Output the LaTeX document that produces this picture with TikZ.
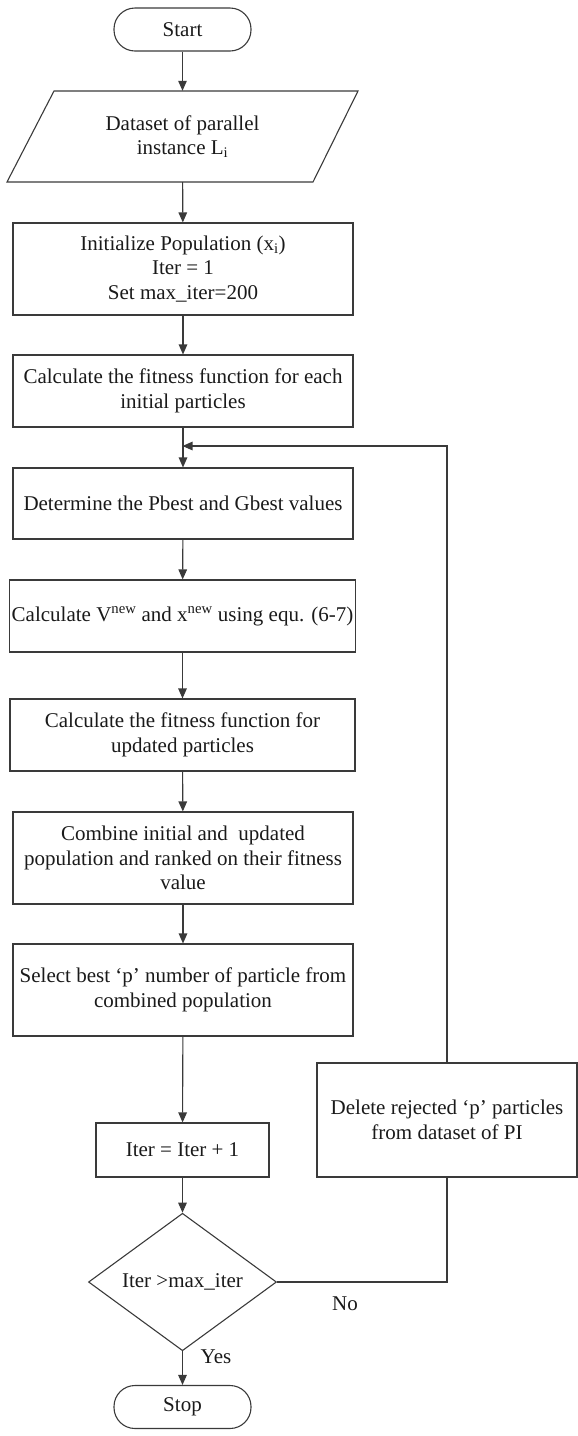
\documentclass[tikz,border=0pt]{standalone}
\usepackage{fontspec}
\setmainfont{Liberation Serif}
\usetikzlibrary{shapes.geometric,arrows.meta}
\definecolor{ln}{HTML}{3A3A3A}
\definecolor{tx}{HTML}{1A1A1A}
\tikzset{
  box/.style={draw=ln, line width=1.1pt, rectangle, align=center, inner sep=2pt, text=tx},
  term/.style={draw=ln, line width=1.1pt, rectangle, rounded corners=21pt, align=center, text=tx, minimum width=137pt, minimum height=43pt},
  plain/.style={rectangle, align=center, inner sep=0pt, text=tx},
  arr/.style={draw=ln, line width=1.1pt, -{Triangle[length=10pt,width=8.5pt]}},
  con/.style={draw=ln, line width=1.1pt},
  lbl/.style={text=tx, inner sep=0pt}
}
\begin{document}
\begin{tikzpicture}[x=1pt,y=-1pt,font=\fontsize{21}{24.5}\selectfont]
\useasboundingbox (0,0) rectangle (578,1436);
\node[term] (start) at (182.5,29.5) {Start};
\node[plain, minimum width=300pt, minimum height=91pt] (data) at (182.5,136.5) {Dataset of parallel\\instance L\textsubscript{i}};
\draw[con] (54,91) -- (358,91) -- (313,182) -- (7,182) -- cycle;
\node[box, minimum width=340pt, minimum height=92pt] (init) at (183,269) {Initialize Population (x\textsubscript{i})\\Iter = 1\\Set max\_iter=200};
\node[box, minimum width=340pt, minimum height=72pt] (fit1) at (183,391) {Calculate the fitness function for each\\initial particles};
\node[box, minimum width=340pt, minimum height=71pt] (det) at (183,503.5) {Determine the Pbest and Gbest values};
\node[box, minimum width=345pt, minimum height=72pt] (calcv) at (182.5,616) {Calculate V\textsuperscript{new} and x\textsuperscript{new} using equ. (6-7)};
\node[box, minimum width=345pt, minimum height=72pt] (fit2) at (182.5,735) {Calculate the fitness function for\\updated particles};
\node[box, minimum width=340pt, minimum height=92pt] (comb) at (183,858) {Combine initial and \ updated\\population and ranked on their fitness\\value};
\node[box, minimum width=340pt, minimum height=92pt] (sel) at (183,990) {Select best ‘p’ number of particle from\\combined population};
\node[box, minimum width=173pt, minimum height=54pt] (iter) at (182.5,1150) {Iter = Iter + 1};
\node[draw=ln, line width=1.1pt, diamond, inner sep=0pt, minimum width=188pt, minimum height=127pt, text=tx] (dec) at (182.5,1282) {Iter >max\_iter};
\node[box, minimum width=260pt, minimum height=114pt] (del) at (447,1120) {Delete rejected ‘p’ particles\\from dataset of PI};
\node[term] (stop) at (182.5,1407) {Stop};
\coordinate (merge) at (182.5,446);
\draw[arr] (start) -- (data);
\draw[arr] (data) -- (init);
\draw[arr] (init) -- (fit1);
\draw[arr] (fit1) -- (det);
\draw[arr] (det) -- (calcv);
\draw[arr] (calcv) -- (fit2);
\draw[arr] (fit2) -- (comb);
\draw[arr] (comb) -- (sel);
\draw[arr] (sel) -- (iter);
\draw[arr] (iter) -- (dec);
\draw[arr] (dec) -- (stop);
\draw[con] (dec.east) -| (del.south);
\draw[arr] (del.north) |- (merge);
\node[lbl] (no) at (345,1304) {No};
\node[lbl] (yes) at (216,1357) {Yes};
\end{tikzpicture}
\end{document}
